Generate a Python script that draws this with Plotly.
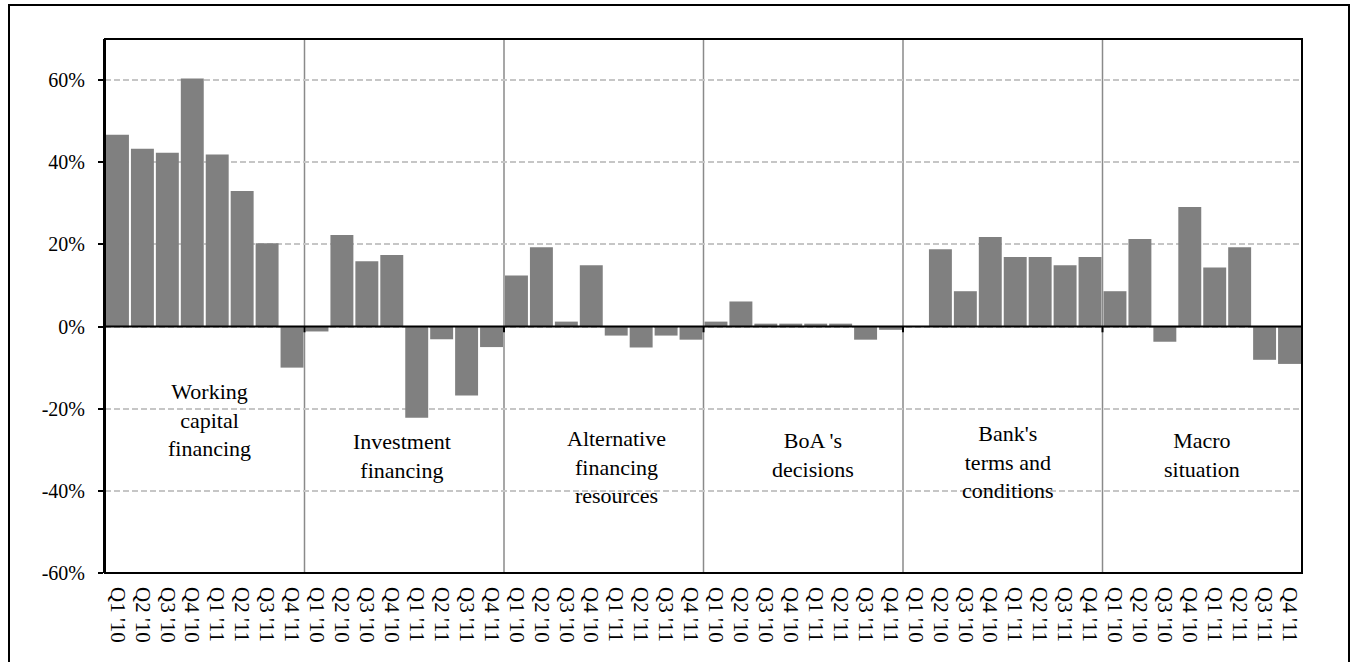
import plotly.graph_objects as go

# Survey factors (net balance, %) for each quarter 2010-2011
groups = [
    "Working<br>capital<br>financing",
    "Investment<br>financing",
    "Alternative<br>financing<br>resources",
    "BoA 's<br>decisions",
    "Bank's<br>terms and<br>conditions",
    "Macro<br>situation",
]
quarters = ["Q1 '10", "Q2 '10", "Q3 '10", "Q4 '10", "Q1 '11", "Q2 '11", "Q3 '11", "Q4 '11"]

working_capital = [46.7, 43.3, 42.3, 60.4, 41.9, 33.0, 20.3, -10.0]
investment = [-1.2, 22.3, 15.9, 17.4, -22.2, -3.1, -16.8, -5.0]
alternative = [12.4, 19.3, 1.2, 14.9, -2.2, -5.1, -2.2, -3.2]
boa_decisions = [1.2, 6.1, 0.7, 0.7, 0.7, 0.7, -3.2, -0.8]
bank_terms = [0.0, 18.8, 8.6, 21.8, 16.9, 16.9, 14.9, 16.9]
macro = [8.6, 21.3, -3.7, 29.1, 14.4, 19.3, -8.1, -9.1]

y_ticks = [-60, -40, -20, 0, 20, 40, 60]
y_tick_labels = ["-60%", "-40%", "-20%", "0%", "20%", "40%", "60%"]

series = [working_capital, investment, alternative, boa_decisions, bank_terms, macro]
values = [v for s in series for v in s]
x_pos = list(range(len(values)))
x_labels = quarters * len(groups)
n_per_group = len(quarters)

# label anchor positions (x in category units, y in % units)
label_x = [3.7, 11.4, 20.0, 27.9, 35.7, 43.5]
label_y = [-22.7, -31.5, -34.2, -31.3, -33.0, -31.3]

W, H = 1351, 662
ML, MR, MT, MB = 105, 49, 39, 89
PW, PH = W - ML - MR, H - MT - MB


def px_x(p):
    return (p - ML) / PW


def px_y(p):
    return (H - MB - p) / PH


FONT = "Times New Roman, Liberation Serif, serif"

fig = go.Figure(
    go.Bar(
        x=x_pos,
        y=values,
        marker=dict(color="#808080", line=dict(width=0)),
        hoverinfo="skip",
    )
)

shapes = []
# group separators
for g in range(1, len(groups)):
    xb = g * n_per_group - 0.5
    shapes.append(dict(type="line", xref="x", yref="paper", x0=xb, x1=xb, y0=0, y1=1,
                       line=dict(color="#8a8a8a", width=1.5), layer="below"))
    shapes.append(dict(type="line", xref="x", yref="y", x0=xb, x1=xb, y0=0, y1=-1.4,
                       line=dict(color="black", width=2), layer="above"))
# zero axis line
shapes.append(dict(type="line", xref="paper", yref="y", x0=0, x1=1, y0=0, y1=0,
                   line=dict(color="black", width=2), layer="above"))
# plot area border
shapes.append(dict(type="rect", xref="paper", yref="paper", x0=0, x1=1, y0=0, y1=1,
                   line=dict(color="black", width=2), layer="above"))
# chart frame
shapes.append(dict(type="rect", xref="paper", yref="paper",
                   x0=px_x(9), x1=px_x(1349), y0=px_y(670), y1=px_y(5),
                   line=dict(color="black", width=2), layer="above"))

annotations = [
    dict(x=lx, y=ly, xref="x", yref="y", text=t, showarrow=False,
         font=dict(family=FONT, size=22, color="black"), align="center",
         xanchor="center", yanchor="middle")
    for t, lx, ly in zip(groups, label_x, label_y)
]

fig.update_layout(
    width=W,
    height=H,
    margin=dict(l=ML, r=MR, t=MT, b=MB),
    paper_bgcolor="white",
    plot_bgcolor="white",
    bargap=0.08,
    showlegend=False,
    shapes=shapes,
    annotations=annotations,
    font=dict(family=FONT, size=19, color="black"),
    xaxis=dict(
        range=[-0.5, len(values) - 0.5],
        tickmode="array",
        tickvals=x_pos,
        ticktext=x_labels,
        tickangle=90,
        showgrid=False,
        zeroline=False,
        showline=False,
        ticks="",
        ticklabelstandoff=13,
        tickfont=dict(family=FONT, size=21, color="black"),
    ),
    yaxis=dict(
        range=[-60, 70],
        tickmode="array",
        tickvals=y_ticks,
        ticktext=y_tick_labels,
        showgrid=True,
        gridcolor="#c6c6c6",
        gridwidth=1.5,
        griddash="6px,3px",
        zeroline=False,
        showline=True,
        linecolor="black",
        linewidth=2,
        ticks="outside",
        ticklen=5,
        tickwidth=2,
        tickcolor="black",
        ticklabelstandoff=9,
        tickfont=dict(family=FONT, size=20, color="black"),
    ),
)

fig.write_html("out.html")
